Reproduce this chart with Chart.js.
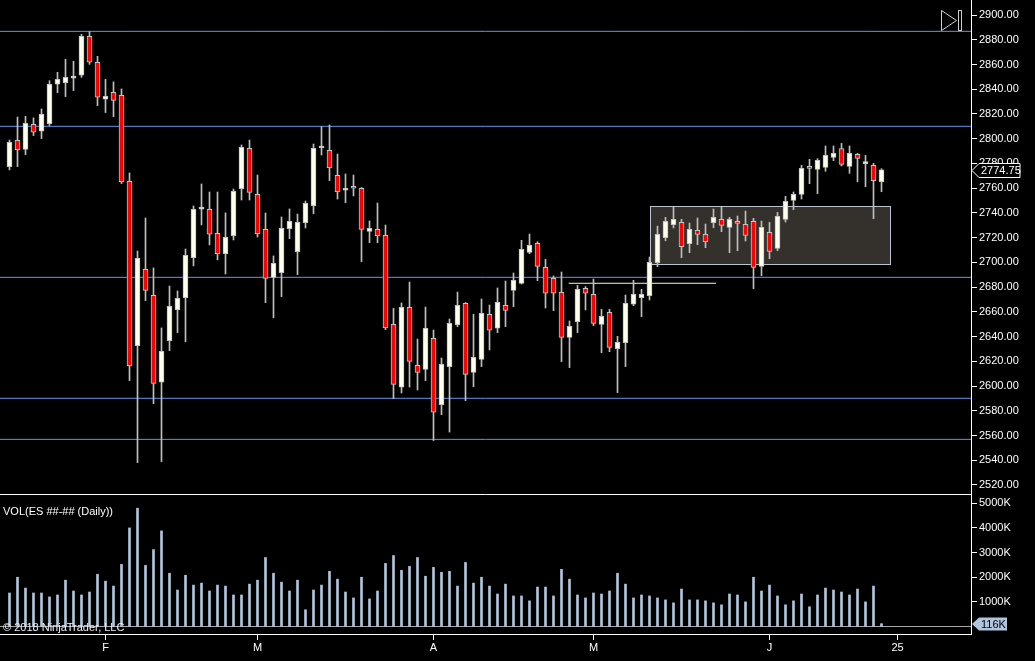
<!DOCTYPE html>
<html>
<head>
<meta charset="utf-8">
<script src="https://cdn.jsdelivr.net/npm/chart.js@4.4.0/dist/chart.umd.min.js"></script>
<style>
  html, body { margin: 0; padding: 0; background: #000; overflow: hidden; }
  #wrap { position: relative; width: 1035px; height: 661px; background: #000; }
  canvas { position: absolute; left: 0; }
  #price { top: 0; }
  #vol { top: 494px; }
</style>
</head>
<body>
<div id="wrap">
  <canvas id="price" width="1035" height="494"></canvas>
  <canvas id="vol" width="1035" height="167"></canvas>
</div>
<script>
// daily ES bars
const opens = [
  2777.4, 2798.7, 2791.4, 2811.6, 2806.0, 2812.2, 2844.0, 2845.3, 2849.0, 2851.3,
  2882.8, 2861.8, 2831.9, 2837.5, 2835.1, 2765.6, 2632.7, 2694.4, 2673.4, 2603.1,
  2636.7, 2661.8, 2671.5, 2703.8, 2743.0, 2742.9, 2723.5, 2707.1, 2721.6, 2759.6,
  2792.2, 2755.0, 2726.7, 2687.9, 2691.7, 2727.3, 2708.7, 2732.1, 2745.9, 2792.5,
  2790.6, 2770.4, 2758.3, 2761.5, 2759.9, 2725.1, 2726.7, 2721.9, 2649.9, 2599.0,
  2663.7, 2616.8, 2613.5, 2638.6, 2585.0, 2615.7, 2649.6, 2666.9, 2611.1, 2621.6,
  2658.0, 2646.7, 2665.3, 2677.4, 2683.0, 2708.1, 2715.4, 2696.0, 2687.1, 2675.8,
  2639.4, 2652.1, 2679.0, 2674.2, 2649.9, 2659.6, 2630.2, 2635.1, 2666.3, 2671.5,
  2673.1, 2699.8, 2720.0, 2730.5, 2732.3, 2715.1, 2725.9, 2722.6, 2732.1, 2734.8,
  2728.3, 2733.2, 2730.7, 2733.2, 2696.8, 2724.3, 2711.3, 2734.8, 2750.1, 2755.0,
  2777.6, 2775.2, 2776.8, 2784.9, 2791.9, 2777.6, 2787.3, 2779.8, 2778.4, 2765.2
];
const highs = [
  2798.9, 2817.5, 2818.1, 2816.8, 2824.0, 2846.9, 2853.7, 2864.2, 2862.6, 2884.4,
  2886.6, 2866.6, 2848.0, 2845.9, 2840.2, 2772.3, 2709.2, 2735.9, 2695.5, 2647.0,
  2680.9, 2676.9, 2710.8, 2745.6, 2763.4, 2756.9, 2756.9, 2740.0, 2759.3, 2794.9,
  2798.9, 2770.6, 2739.9, 2705.2, 2736.7, 2743.2, 2739.1, 2749.6, 2795.7, 2809.7,
  2811.1, 2787.6, 2771.5, 2770.6, 2760.5, 2733.5, 2748.0, 2730.2, 2662.8, 2667.2,
  2684.1, 2638.0, 2663.9, 2645.3, 2622.7, 2654.2, 2676.0, 2667.5, 2658.0, 2670.4,
  2665.5, 2679.3, 2684.9, 2691.4, 2717.8, 2722.9, 2716.7, 2702.5, 2689.0, 2692.2,
  2652.6, 2681.4, 2680.4, 2686.5, 2662.0, 2662.0, 2640.2, 2673.6, 2685.5, 2678.2,
  2704.3, 2729.3, 2736.4, 2745.0, 2734.8, 2731.8, 2735.9, 2731.0, 2743.1, 2745.0,
  2736.4, 2737.5, 2741.5, 2735.6, 2733.4, 2732.3, 2740.4, 2753.4, 2756.9, 2778.4,
  2783.3, 2783.8, 2794.1, 2794.1, 2796.2, 2794.1, 2788.1, 2786.5, 2780.1, 2775.7
];
const lows = [
  2774.7, 2777.4, 2787.1, 2802.5, 2800.1, 2810.6, 2837.2, 2834.0, 2838.9, 2849.6,
  2860.1, 2826.7, 2821.1, 2817.8, 2763.7, 2604.4, 2538.1, 2669.1, 2585.8, 2538.9,
  2628.6, 2643.2, 2635.9, 2697.1, 2730.3, 2714.1, 2702.0, 2690.6, 2718.1, 2750.4,
  2750.4, 2720.5, 2667.4, 2655.3, 2672.3, 2719.2, 2690.1, 2727.8, 2739.4, 2786.8,
  2766.1, 2751.2, 2748.3, 2753.7, 2700.6, 2715.9, 2715.9, 2645.6, 2589.8, 2594.4,
  2599.2, 2596.8, 2604.4, 2555.9, 2576.9, 2562.8, 2648.0, 2588.2, 2599.5, 2615.7,
  2629.2, 2643.2, 2648.0, 2664.2, 2682.5, 2707.0, 2685.2, 2663.1, 2661.0, 2619.7,
  2614.9, 2643.2, 2661.5, 2648.8, 2627.0, 2627.8, 2594.7, 2615.7, 2665.0, 2656.1,
  2669.6, 2696.5, 2717.5, 2727.8, 2703.8, 2707.8, 2714.3, 2711.9, 2728.0, 2724.8,
  2707.8, 2709.4, 2717.3, 2678.7, 2689.2, 2703.0, 2709.4, 2732.6, 2742.6, 2751.2,
  2763.6, 2755.5, 2773.6, 2782.2, 2777.9, 2772.0, 2765.2, 2761.2, 2735.3, 2757.1
];
const closes = [
  2797.1, 2791.1, 2812.4, 2805.2, 2819.7, 2844.0, 2848.0, 2849.6, 2850.0, 2882.8,
  2861.8, 2833.5, 2834.3, 2831.0, 2765.3, 2616.5, 2703.3, 2677.4, 2602.2, 2628.1,
  2664.5, 2671.0, 2705.7, 2742.9, 2744.0, 2722.7, 2707.1, 2720.3, 2757.4, 2793.0,
  2756.6, 2723.2, 2687.1, 2699.2, 2727.5, 2733.2, 2732.4, 2747.7, 2792.2, 2793.5,
  2776.6, 2757.2, 2759.3, 2759.9, 2726.7, 2727.5, 2721.6, 2647.2, 2601.4, 2663.7,
  2620.0, 2611.1, 2646.7, 2578.8, 2617.6, 2650.7, 2665.3, 2609.5, 2623.2, 2658.8,
  2645.1, 2667.7, 2661.2, 2685.5, 2710.5, 2713.8, 2696.8, 2675.0, 2675.0, 2639.4,
  2648.3, 2678.2, 2675.0, 2650.7, 2656.4, 2631.3, 2635.3, 2666.9, 2674.2, 2674.2,
  2700.0, 2722.7, 2733.2, 2734.8, 2712.7, 2726.7, 2722.6, 2716.7, 2736.4, 2729.9,
  2734.8, 2731.5, 2721.8, 2696.0, 2728.3, 2708.9, 2737.2, 2749.3, 2755.0, 2776.0,
  2776.0, 2782.5, 2786.5, 2788.1, 2779.2, 2788.1, 2784.1, 2780.8, 2766.0, 2774.75
];
// volume in thousands of contracts
const volumes = [
  1360, 2000, 1560, 1360, 1360, 1200, 1280, 1880, 1440, 1280,
  1400, 2120, 1840, 1640, 2520, 4000, 4800, 2480, 3120, 3880,
  2160, 1480, 2080, 1680, 1760, 1440, 1680, 1640, 1280, 1280,
  1720, 1880, 2800, 2160, 1800, 1440, 1880, 680, 1480, 1680,
  2240, 1920, 1400, 1160, 2000, 1120, 1440, 2560, 2880, 2280,
  2440, 2800, 2040, 2400, 2200, 2240, 1640, 2600, 1760, 2000,
  1640, 1320, 1720, 1240, 1240, 1040, 1600, 1600, 1240, 2320,
  1920, 1280, 1160, 1360, 1320, 1440, 2160, 1720, 1160, 1280,
  1240, 1160, 1080, 960, 1520, 1080, 1080, 1040, 960, 880,
  1320, 1280, 1000, 2000, 1440, 1680, 1240, 880, 1040, 1320,
  800, 1280, 1560, 1480, 1400, 1280, 1520, 1000, 1640, 116
];

const priceTicks = [2520, 2540, 2560, 2580, 2600, 2620, 2640, 2660, 2680, 2700,
  2720, 2740, 2760, 2780, 2800, 2820, 2840, 2860, 2880, 2900];
const volumeTicks = [1000, 2000, 3000, 4000, 5000];
const monthTickIdx = [12, 31, 53, 73, 95, 111];
const monthTickLabels = ["F", "M", "A", "M", "J", "25"];

// drawn objects on the price panel
const levelLines = [2886.8, 2810.0, 2687.9, 2590.1, 2556.9];
const segmentFrom = 69.9, segmentTo = 88.3, segmentPrice = 2683.1;
const boxFrom = 80.1, boxTo = 110.03, boxLow = 2698.4, boxHigh = 2745.3;

const xMin = -1.1875;
const xMax = xMin + 971 / 8;
const AXIS_W = 64;
const FONT = { family: '"Liberation Sans", Arial, sans-serif', size: 11 };
const FONT_CSS = '11px "Liberation Sans", Arial, sans-serif';

const idx = opens.map((_, i) => i);

function fixRightAxis(scale) {
    scale.width = AXIS_W;
    scale.paddingTop = 0;
    scale.paddingBottom = 0;
}

function drawMarker(ctx, x, y, w, h, text, fill, stroke, color) {
    const t = Math.round(y - h / 2) + 0.5;
    const b = t + h;
    ctx.save();
    ctx.beginPath();
    ctx.moveTo(x, (t + b) / 2);
    ctx.lineTo(x + 7, t);
    ctx.lineTo(x + w, t);
    ctx.lineTo(x + w, b);
    ctx.lineTo(x + 7, b);
    ctx.closePath();
    ctx.fillStyle = fill;
    ctx.fill();
    if (stroke) {
        ctx.strokeStyle = stroke;
        ctx.lineWidth = 1;
        ctx.stroke();
    }
    ctx.fillStyle = color;
    ctx.font = FONT_CSS;
    ctx.textBaseline = "middle";
    ctx.fillText(text, x + 9, (t + b) / 2 + 0.5);
    ctx.restore();
}

const boxPlugin = {
    id: "consolidationBox",
    beforeDatasetsDraw(chart) {
        const { ctx, scales: { x, y } } = chart;
        const l = Math.round(x.getPixelForValue(boxFrom)) + 0.5;
        const r = Math.round(x.getPixelForValue(boxTo)) + 0.5;
        const t = Math.round(y.getPixelForValue(boxHigh)) + 0.5;
        const b = Math.round(y.getPixelForValue(boxLow)) + 0.5;
        ctx.save();
        ctx.fillStyle = "#34302c";
        ctx.fillRect(l, t, r - l, b - t);
        ctx.strokeStyle = "#b8c4d0";
        ctx.lineWidth = 1;
        ctx.strokeRect(l, t, r - l, b - t);
        ctx.restore();
    }
};

const priceExtras = {
    id: "priceExtras",
    afterDraw(chart) {
        const { ctx, chartArea, scales: { y } } = chart;
        const last = closes[closes.length - 1];
        drawMarker(ctx, chartArea.right + 1, y.getPixelForValue(last), 48, 14,
            last.toFixed(2), "#000", "#fff", "#fff");
        // scroll-to-end button
        ctx.save();
        ctx.strokeStyle = "#d0d0d0";
        ctx.lineWidth = 1;
        ctx.beginPath();
        ctx.moveTo(941.5, 10.5);
        ctx.lineTo(941.5, 30.5);
        ctx.lineTo(956.5, 20.5);
        ctx.closePath();
        ctx.stroke();
        ctx.strokeRect(958.5, 10.5, 3, 20);
        ctx.restore();
    }
};

const volExtras = {
    id: "volExtras",
    afterDraw(chart) {
        const { ctx, chartArea, scales: { y } } = chart;
        ctx.save();
        ctx.strokeStyle = "#fff";
        ctx.lineWidth = 1;
        ctx.beginPath();
        ctx.moveTo(0, 0.5);
        ctx.lineTo(chartArea.right, 0.5);
        ctx.stroke();
        ctx.fillStyle = "#fff";
        ctx.font = FONT_CSS;
        ctx.textBaseline = "middle";
        ctx.fillText("VOL(ES ##-## (Daily))", 3, 18);
        ctx.fillStyle = "#f0f0f0";
        ctx.fillText("\u00a9 2018 NinjaTrader, LLC", 3, 134);
        ctx.restore();
        const lastVol = volumes[volumes.length - 1];
        drawMarker(ctx, chartArea.right + 1, y.getPixelForValue(lastVol), 35, 13,
            lastVol + "K", "#b0c4de", null, "#000");
    }
};

Chart.defaults.color = "#fff";

new Chart(document.getElementById("price"), {
    type: "bar",
    data: {
        datasets: [
            ...levelLines.map(v => ({
                type: "line",
                data: [{ x: xMin, y: v }, { x: xMax, y: v }],
                borderColor: "#6495ed",
                borderWidth: 1,
                pointRadius: 0,
                order: 10
            })),
            {
                type: "line",
                data: [{ x: segmentFrom, y: segmentPrice }, { x: segmentTo, y: segmentPrice }],
                borderColor: "#f4f4e6",
                borderWidth: 1,
                pointRadius: 0,
                order: 9
            },
            {
                // wicks
                type: "bar",
                data: idx.map(i => ({ x: i, y: [lows[i], highs[i]] })),
                backgroundColor: "#bebebe",
                barThickness: 1,
                grouped: false,
                order: 3
            },
            {
                // bodies
                type: "bar",
                data: idx.map(i => ({ x: i, y: [opens[i], closes[i]] })),
                backgroundColor: idx.map(i => closes[i] >= opens[i] ? "#fffff0" : "#ff0000"),
                borderColor: "#c4c4c4",
                borderWidth: 1,
                borderSkipped: false,
                barThickness: 5,
                minBarLength: 2,
                grouped: false,
                order: 2
            }
        ]
    },
    options: {
        responsive: false,
        animation: false,
        devicePixelRatio: 1,
        layout: { padding: 0 },
        plugins: { legend: { display: false }, tooltip: { enabled: false } },
        scales: {
            x: { type: "linear", min: xMin, max: xMax, display: false, offset: false },
            y: {
                position: "right",
                min: 2512.72,
                max: 2912.13,
                afterBuildTicks: s => { s.ticks = priceTicks.map(v => ({ value: v })); },
                afterFit: fixRightAxis,
                border: { color: "#fff", width: 1 },
                grid: { drawOnChartArea: false, color: "#fff", tickLength: 6 },
                ticks: { color: "#fff", font: FONT, padding: 2, callback: v => v.toFixed(2) }
            }
        }
    },
    plugins: [boxPlugin, priceExtras]
});

new Chart(document.getElementById("vol"), {
    type: "bar",
    data: {
        datasets: [
            {
                type: "line",
                data: [{ x: xMin, y: 0 }, { x: xMax, y: 0 }],
                borderColor: "#a8a8a8",
                borderWidth: 1,
                pointRadius: 0,
                order: 5
            },
            {
                type: "bar",
                data: idx.map(i => ({ x: i, y: volumes[i] })),
                backgroundColor: "#b0c4de",
                barThickness: 2,
                grouped: false,
                order: 1
            }
        ]
    },
    options: {
        responsive: false,
        animation: false,
        devicePixelRatio: 1,
        layout: { padding: 0 },
        plugins: { legend: { display: false }, tooltip: { enabled: false } },
        scales: {
            x: {
                type: "linear",
                min: xMin,
                max: xMax,
                offset: false,
                position: "bottom",
                afterBuildTicks: s => { s.ticks = monthTickIdx.map(v => ({ value: v })); },
                afterFit: s => { s.height = 27; s.paddingLeft = 0; s.paddingRight = 0; },
                border: { color: "#fff", width: 1 },
                grid: { drawOnChartArea: false, offset: false, color: "#fff", tickLength: 6 },
                ticks: {
                    color: "#fff", font: FONT, padding: 1, maxRotation: 0, autoSkip: false,
                    callback: (v, i) => monthTickLabels[i]
                }
            },
            y: {
                position: "right",
                min: -304,
                max: 5377,
                afterBuildTicks: s => { s.ticks = volumeTicks.map(v => ({ value: v })); },
                afterFit: fixRightAxis,
                border: { color: "#fff", width: 1 },
                grid: { drawOnChartArea: false, color: "#fff", tickLength: 6 },
                ticks: { color: "#fff", font: FONT, padding: 2, callback: v => v + "K" }
            }
        }
    },
    plugins: [volExtras]
});
</script>
</body>
</html>
